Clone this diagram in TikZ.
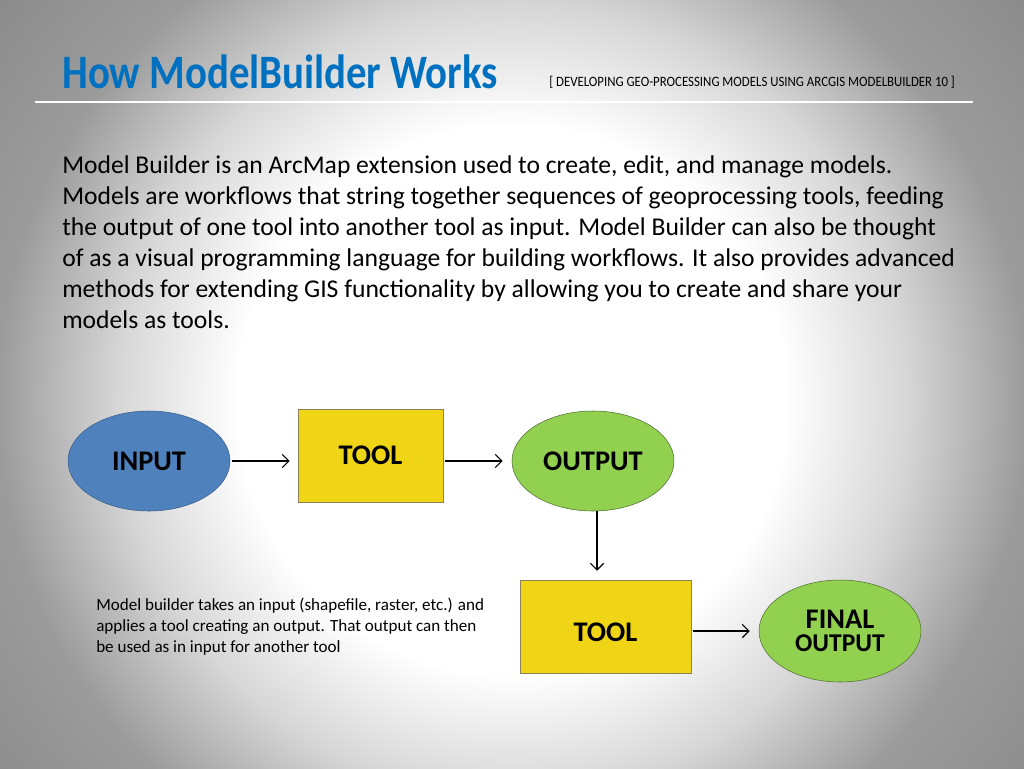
\documentclass[tikz,border=0pt]{standalone}
\usepackage{fontspec}
\setmainfont{Carlito}
\usetikzlibrary{arrows.meta,positioning,shapes.geometric}
\definecolor{titleblue}{RGB}{0,112,192}
\definecolor{inblue}{RGB}{79,129,189}
\definecolor{inblueline}{RGB}{56,93,138}
\definecolor{toolyellow}{RGB}{240,212,22}
\definecolor{toolline}{RGB}{140,130,90}
\definecolor{outgreen}{RGB}{146,208,80}
\definecolor{outgreenline}{RGB}{80,110,50}
% slide background, radii in bp
\pgfdeclareradialshading{slidebg}{\pgfpoint{0bp}{0bp}}{color(0bp)=(white); color(205bp)=(white); color(295bp)=(black!16); color(384bp)=(black!39); color(480bp)=(black!45); color(525bp)=(black!46)}

\begin{document}
\begin{tikzpicture}[
  x=0.75pt, y=-0.75pt,
  ellnode/.style={ellipse, draw, inner sep=0pt, minimum width=121.5pt, minimum height=75pt, align=center, font=\fontsize{21.3}{22}\selectfont\bfseries},
  toolbox/.style={rectangle, draw=toolline, fill=toolyellow, inner sep=0pt, minimum height=69.75pt, align=center, font=\fontsize{21.3}{22}\selectfont\bfseries},
  arrow/.style={-{Straight Barb[length=5pt,width=10pt]}, line width=0.9pt}
]
\useasboundingbox (0,0) rectangle (1024,768);
\begin{scope}
  \clip (0,0) rectangle (1024,768);
  \node[inner sep=0pt] (bg) at (512,400) {\pgfuseshading{slidebg}};
\end{scope}

% header
\node[anchor=base west, inner sep=0pt, text=titleblue, font=\fontsize{36}{40}\selectfont\bfseries] (title) at (62,88) {\scalebox{0.85}[1]{How ModelBuilder Works}};
\node[anchor=base west, inner sep=0pt, font=\fontsize{10.7}{12}\selectfont] (subtitle) at (549,86) {\scalebox{0.9}[1]{[ DEVELOPING GEO-PROCESSING MODELS USING ARCGIS MODELBUILDER 10 ]}};
\draw[white, line width=1pt] (35,102) -- (973,102);

% intro text
\node[anchor=north west, inner sep=0pt, align=left, font=\fontsize{19.2}{23.25}\selectfont] (intro) at (62,155) {Model Builder is an ArcMap extension used to create, edit, and manage models.\\
Models are workflows that string together sequences of geoprocessing tools, feeding\\
the output of one tool into another tool as input. Model Builder can also be thought\\
of as a visual programming language for building workflows. It also provides advanced\\
methods for extending GIS functionality by allowing you to create and share your\\
models as tools.};

% diagram
\node[ellnode, draw=inblueline, fill=inblue] (input) at (149,461) {INPUT};
\node[toolbox, minimum width=108.75pt] (tool1) at (370.5,455.5) {TOOL};
\node[ellnode, draw=outgreenline, fill=outgreen] (output) at (593,461) {OUTPUT};
\node[toolbox, minimum width=128.25pt] (tool2) at (605.5,626.5) {\raisebox{-11pt}[0pt][0pt]{TOOL}};
\node[ellnode, draw=outgreenline, fill=outgreen, minimum height=76.5pt] (final) at (840,631) {FINAL\\[-5pt]{\fontsize{19.2}{20}\selectfont OUTPUT}};

\node[anchor=north west, inner sep=0pt, align=left, font=\fontsize{12.8}{15.75}\selectfont] (caption) at (96,598) {Model builder takes an input (shapefile, raster, etc.) and\\
applies a tool creating an output. That output can then\\
be used as in input for another tool};

\draw[arrow, shorten <=1.5pt, shorten >=6pt] (input.east) -- (tool1.west |- input.east);
\draw[arrow, shorten <=1pt, shorten >=6.75pt] (tool1.east |- output.west) -- (output.west);
\draw[arrow, shorten >=6.75pt] ([xshift=3pt]output.south) -- ([xshift=3pt]output.south |- tool2.north);
\draw[arrow, shorten <=1pt, shorten >=6.75pt] (tool2.east |- final.west) -- (final.west);
\end{tikzpicture}
\end{document}
